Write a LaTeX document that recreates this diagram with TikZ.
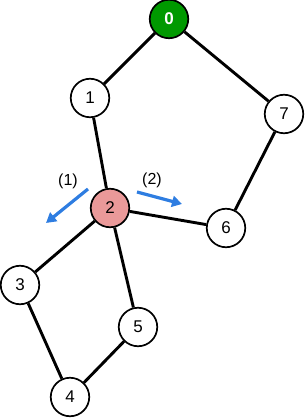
\documentclass[tikz,border=0pt]{standalone}
\usepackage{fontspec}
\setmainfont{Liberation Sans}
\usetikzlibrary{arrows.meta}
\definecolor{gr}{HTML}{009900}
\definecolor{pk}{HTML}{EA9999}
\definecolor{bl}{HTML}{2E7DE1}
\begin{document}
\begin{tikzpicture}[x=1pt,y=-1pt,
  vtx/.style={circle,draw=black,line width=1.7pt,fill=white,minimum size=38.5pt,inner sep=0pt,font=\fontsize{17}{19}\selectfont},
  edge/.style={line width=2.9pt},
  mv/.style={draw=bl,line width=3.2pt,-{Triangle[length=10pt,width=11pt]}},
  lbl/.style={font=\fontsize{16}{18}\selectfont}]
\useasboundingbox (0,0) rectangle (306,419);
\node[vtx,fill=gr,text=white,font=\fontsize{17}{19}\selectfont\bfseries] (n0) at (169,19) {0};
\node[vtx] (n1) at (90,98) {1};
\node[vtx] (n7) at (284,114) {7};
\node[vtx,fill=pk] (n2) at (110,208) {2};
\node[vtx] (n6) at (226,228) {6};
\node[vtx] (n3) at (20,285) {3};
\node[vtx] (n5) at (138,327) {5};
\node[vtx] (n4) at (70,397) {4};
\draw[edge] (n0) -- (n1);
\draw[edge] (n0) -- (n7);
\draw[edge] (n1) -- (n2);
\draw[edge] (n7) -- (n6);
\draw[edge] (n2) -- (n6);
\draw[edge] (n2) -- (n3);
\draw[edge] (n2) -- (n5);
\draw[edge] (n3) -- (n4);
\draw[edge] (n5) -- (n4);
\coordinate (a1s) at (88,189);
\coordinate (a1e) at (46,223);
\coordinate (a2s) at (137,192);
\coordinate (a2e) at (182,204);
\draw[mv] (a1s) -- (a1e);
\draw[mv] (a2s) -- (a2e);
\node[lbl] (l1) at (68,181) {(1)};
\node[lbl] (l2) at (152,180) {(2)};
\end{tikzpicture}
\end{document}
